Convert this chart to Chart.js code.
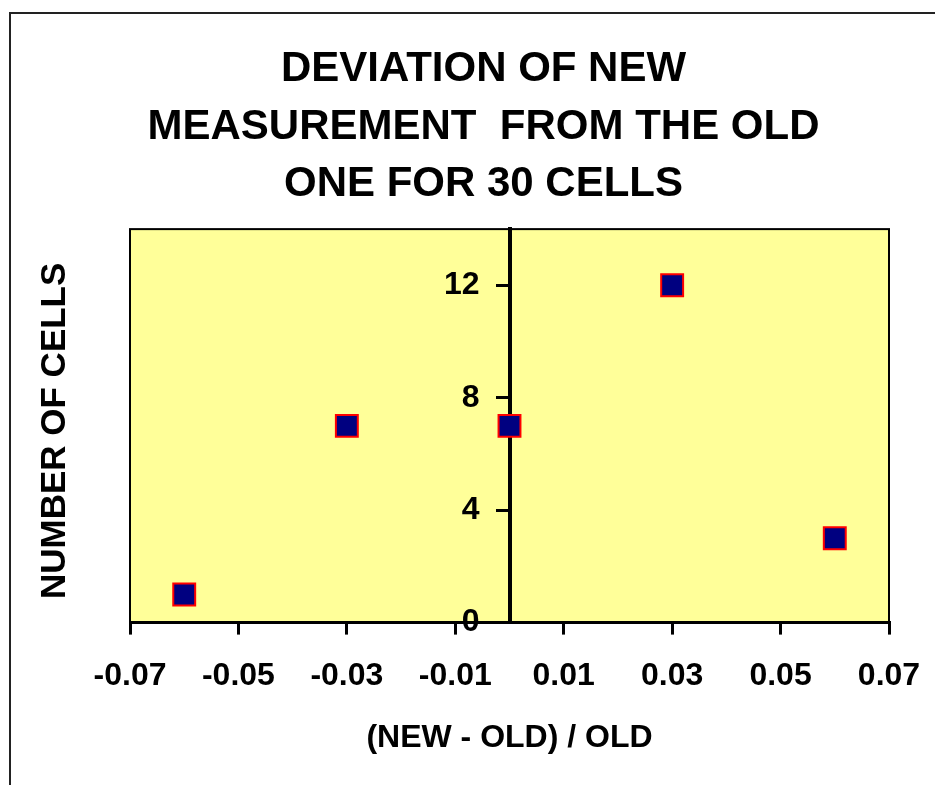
<!DOCTYPE html>
<html>
<head>
<meta charset="utf-8">
<script src="https://cdn.jsdelivr.net/npm/chart.js@4.4.1/dist/chart.umd.min.js"></script>
<style>
	body { margin: 0; background: #fff; }
	#wrap { position: relative; width: 935px; height: 785px; }
	#frame {
		position: absolute; left: 9px; top: 12px; right: -4px; bottom: -4px;
		border-left: 2px solid #222; border-top: 2px solid #222;
		pointer-events: none;
	}
</style>
</head>
<body>
<div id="wrap">
	<canvas id="myChart" width="935" height="785"></canvas>
	<div id="frame"></div>
</div>
<script>
// Deviation values and how many cells fall at each one
var deviation = [-0.06, -0.03, 0, 0.03, 0.06];
var cellCount = [1, 7, 7, 12, 3];
var xTicks = [-0.07, -0.05, -0.03, -0.01, 0.01, 0.03, 0.05, 0.07];
var yTicks = [0, 4, 8, 12];

var fontFamily = "'Liberation Sans', Arial, sans-serif";

// Yellow plot area with a black frame, plus the rotated y-axis title
var plotArea = {
	id: 'plotArea',
	beforeDraw: function (chart) {
		var ctx = chart.ctx;
		var a = chart.chartArea;
		ctx.save();
		ctx.fillStyle = '#FFFF99';
		ctx.fillRect(a.left, a.top, a.right - a.left, a.bottom - a.top);
		ctx.strokeStyle = '#000';
		ctx.lineWidth = 2;
		ctx.strokeRect(a.left, a.top, a.right - a.left, a.bottom - a.top);
		ctx.restore();
	},
	afterDraw: function (chart) {
		var ctx = chart.ctx;
		var a = chart.chartArea;
		ctx.save();
		ctx.translate(a.left - 75, (a.top + a.bottom) / 2 + 5);
		ctx.rotate(-Math.PI / 2);
		ctx.font = 'bold 35px ' + fontFamily;
		ctx.fillStyle = '#000';
		ctx.textAlign = 'center';
		ctx.textBaseline = 'middle';
		ctx.fillText('NUMBER OF CELLS', 0, 0);
		ctx.restore();
	}
};

var points = deviation.map(function (d, i) {
	return { x: d, y: cellCount[i] };
});

var ctx = document.getElementById('myChart').getContext('2d');
var myChart = new Chart(ctx, {
	type: 'scatter',
	data: {
		datasets: [{
			data: points,
			pointStyle: 'rect',
			pointRadius: 15.5,
			pointHoverRadius: 15.5,
			backgroundColor: '#000080',
			borderColor: '#FF0000',
			borderWidth: 2
		}]
	},
	options: {
		responsive: false,
		animation: false,
		layout: {
			padding: { left: 78, right: 46, top: 0, bottom: 28 }
		},
		plugins: {
			legend: { display: false },
			tooltip: { enabled: false },
			title: {
				display: true,
				text: ['DEVIATION OF NEW', 'MEASUREMENT  FROM THE OLD', 'ONE FOR 30 CELLS'],
				color: '#000',
				font: { family: fontFamily, size: 42, weight: 'bold', lineHeight: 1.37 },
				padding: { top: 41, bottom: 15.5 }
			}
		},
		scales: {
			x: {
				type: 'linear',
				position: 'bottom',
				min: -0.07,
				max: 0.07,
				afterBuildTicks: function (axis) {
					axis.ticks = xTicks.map(function (v) { return { value: v }; });
				},
				ticks: {
					color: '#000',
					padding: 10,
					maxRotation: 0,
					font: { family: fontFamily, size: 32, weight: 'bold', lineHeight: 2 },
					callback: function (v) { return v.toFixed(2); }
				},
				grid: {
					drawOnChartArea: false,
					drawTicks: true,
					tickLength: 12,
					color: '#000',
					lineWidth: 3
				},
				border: { display: true, color: '#000', width: 3 },
				title: {
					display: true,
					text: '(NEW - OLD) / OLD',
					color: '#000',
					font: { family: fontFamily, size: 32, weight: 'bold' },
					padding: { top: 0, bottom: 0 }
				}
			},
			y: {
				type: 'linear',
				// x runs symmetric around 0, so the centre is the x = 0 line
				position: 'center',
				min: 0,
				max: 14,
				afterBuildTicks: function (axis) {
					axis.ticks = yTicks.map(function (v) { return { value: v }; });
				},
				ticks: {
					color: '#000',
					padding: 18,
					font: { family: fontFamily, size: 32, weight: 'bold' }
				},
				grid: {
					drawOnChartArea: false,
					drawTicks: true,
					tickLength: 12,
					color: '#000',
					lineWidth: 3
				},
				border: { display: true, color: '#000', width: 4 }
			},
			// empty strip on the left that holds the y-axis title
			gutter: {
				axis: 'y',
				type: 'linear',
				position: 'left',
				grid: { display: false },
				border: { display: false },
				ticks: { display: false },
				afterFit: function (axis) { axis.width = 52; }
			}
		}
	},
	plugins: [plotArea]
});
</script>
</body>
</html>
